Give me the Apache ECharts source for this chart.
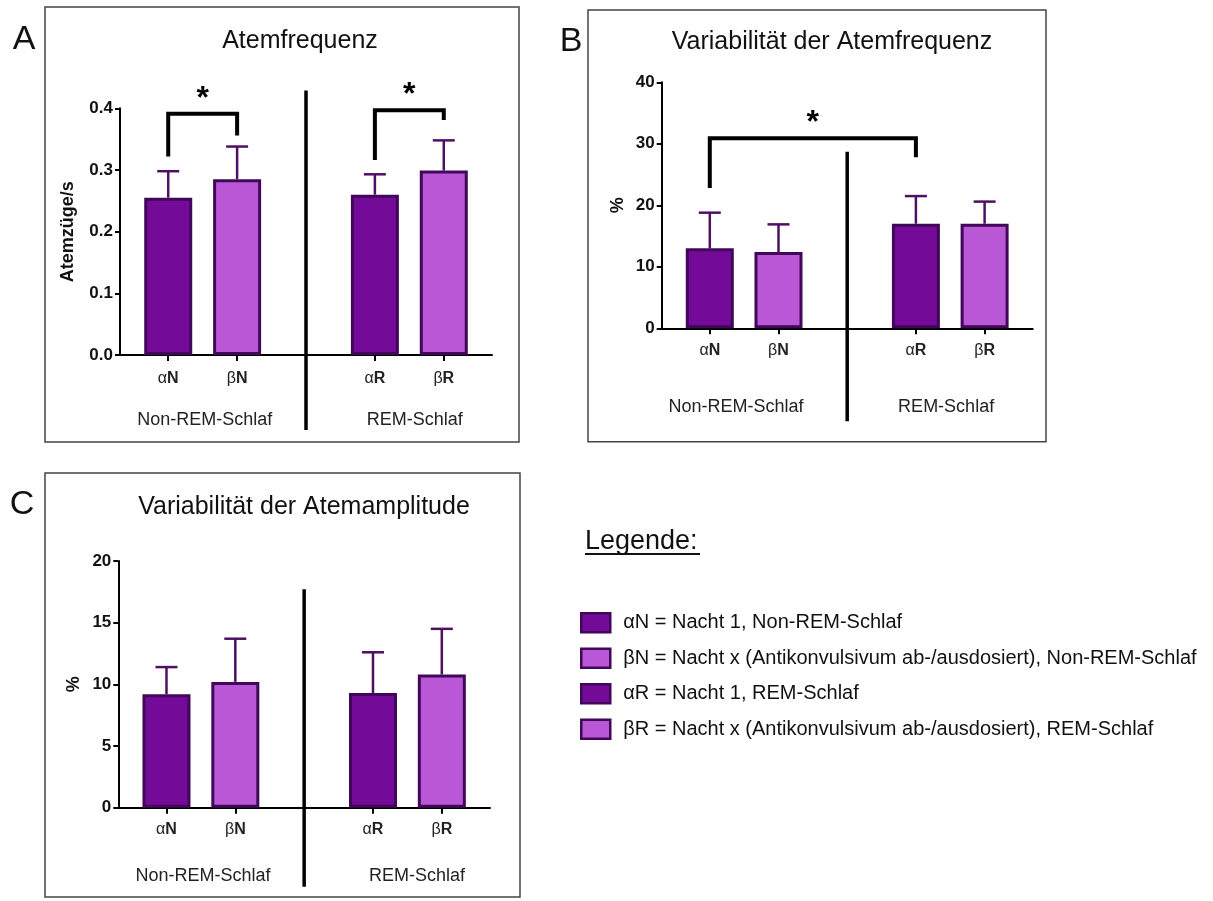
<!DOCTYPE html>
<html>
<head>
<meta charset="utf-8">
<script src="https://cdn.jsdelivr.net/npm/echarts@6/dist/echarts.min.js"></script>
<style>
html,body{margin:0;padding:0;background:#fff;}
#chart{width:1213px;height:901px;}
</style>
</head>
<body>
<div id="chart"></div>
<script>
// ---- data ----
const categories = ['αN', 'βN', 'αR', 'βR'];
const catPos = [0, 1, 3, 4];
const groups = ['Non-REM-Schlaf', 'REM-Schlaf'];
const legendNames = [
  'αN = Nacht 1, Non-REM-Schlaf',
  'βN = Nacht x (Antikonvulsivum ab-/ausdosiert), Non-REM-Schlaf',
  'αR = Nacht 1, REM-Schlaf',
  'βR = Nacht x (Antikonvulsivum ab-/ausdosiert), REM-Schlaf'
];
const freqMean = [0.255, 0.285, 0.260, 0.299];
const freqSD = [0.043, 0.053, 0.033, 0.049];
const freqVarMean = [13.0, 12.4, 17.0, 17.0];
const freqVarSD = [5.8, 4.5, 4.5, 3.6];
const ampVarMean = [9.2, 10.2, 9.3, 10.8];
const ampVarSD = [2.2, 3.5, 3.3, 3.7];
const yTicksA = [0, 0.4, 0.1];
const yTicksB = [0, 40, 10];
const yTicksC = [0, 20, 5];
const titles = ['Atemfrequenz', 'Variabilität der Atemfrequenz', 'Variabilität der Atemamplitude'];
const panelLetters = ['A', 'B', 'C'];
const yNames = ['Atemzüge/s', '%', '%'];
// significance brackets: [fromCat, toCat, leftLegEnd, top, rightLegEnd]
const bracketsA = [[0, 1, 0.322, 0.391, 0.356], [2, 3, 0.316, 0.397, 0.381]];
const bracketsB = [[0, 2, 22.8, 30.9, 27.8]];
const bracketsC = [];

// ---- layout / style ----
const FONT = 'Liberation Sans, Arial, sans-serif';
const fills = ['#740a98', '#b957d6', '#740a98', '#b957d6'];
const border = '#41085a';
const errColor = '#4e1064';
const panels = [
  {mean: freqMean, sd: freqSD, y: yTicksA, br: bracketsA, dec: 1,
   grid: {left: 120, top: 108.3, width: 372, height: 246.7},
   nameGap: 43, catMargin: 16, grpMargin: 56, grpPos: [0.53, 3.58],
   divTop: 0.429, divBottom: 75},
  {mean: freqVarMean, sd: freqVarSD, y: yTicksB, br: bracketsB, dec: 0,
   grid: {left: 661.7, top: 82.3, width: 371, height: 246},
   nameGap: 35, catMargin: 14, grpMargin: 70, grpPos: [0.38, 3.44],
   divTop: 28.7, divBottom: 93},
  {mean: ampVarMean, sd: ampVarSD, y: yTicksC, br: bracketsC, dec: 0,
   grid: {left: 118.3, top: 561, width: 371.7, height: 246.7},
   nameGap: 35, catMargin: 14, grpMargin: 59, grpPos: [0.53, 3.64],
   divTop: 17.7, divBottom: 79}
];
const XMIN = -0.7, XMAX = 4.7;

function findIdx(arr, v) {
  for (let i = 0; i < arr.length; i++) if (Math.abs(arr[i] - v) < 1e-6) return i;
  return -1;
}

const grids = [], xAxes = [], yAxes = [], series = [];
panels.forEach((p, pi) => {
  grids.push(Object.assign({containLabel: false}, p.grid));
  xAxes.push({
    type: 'value', gridIndex: pi, min: XMIN, max: XMAX, position: 'bottom',
    splitLine: {show: false},
    axisLine: {show: true, onZero: false, lineStyle: {color: '#000', width: 2}},
    axisTick: {show: true, customValues: catPos, length: 6, lineStyle: {color: '#000', width: 2}},
    axisLabel: {
      customValues: catPos, margin: p.catMargin,
      formatter: v => { const c = categories[findIdx(catPos, v)] || ''; return '{g|' + c.charAt(0) + '}{b|' + c.slice(1) + '}'; },
      rich: {
        g: {fontFamily: FONT, fontSize: 16, color: '#222'},
        b: {fontFamily: FONT, fontSize: 16, fontWeight: 'bold', color: '#222'}
      }
    }
  });
  xAxes.push({
    type: 'value', gridIndex: pi, min: XMIN, max: XMAX, position: 'bottom',
    splitLine: {show: false}, axisLine: {show: false, onZero: false}, axisTick: {show: false},
    axisLabel: {
      customValues: p.grpPos, margin: p.grpMargin,
      formatter: v => groups[findIdx(p.grpPos, v)] || '',
      fontFamily: FONT, fontSize: 18, color: '#222'
    }
  });
  yAxes.push({
    type: 'value', gridIndex: pi, min: p.y[0], max: p.y[1], interval: p.y[2], position: 'left',
    name: yNames[pi], nameLocation: 'middle', nameGap: p.nameGap,
    nameTextStyle: {fontFamily: FONT, fontSize: 18, fontWeight: 'bold', color: '#111'},
    splitLine: {show: false},
    axisLine: {show: true, onZero: false, lineStyle: {color: '#000', width: 2}},
    axisTick: {show: true, length: 5, lineStyle: {color: '#000', width: 2}},
    axisLabel: {margin: 7, fontFamily: FONT, fontSize: 17, fontWeight: 'bold', color: '#111',
      formatter: v => v.toFixed(p.dec)}
  });
  categories.forEach((c, k) => {
    series.push({
      type: 'bar', name: legendNames[k], xAxisIndex: 2 * pi, yAxisIndex: pi,
      data: [[catPos[k], p.mean[k]]], barWidth: 48, barGap: '-100%',
      itemStyle: {color: fills[k], borderColor: border, borderWidth: 3},
      emphasis: {disabled: true}
    });
  });
  // error bars
  series.push({
    type: 'custom', xAxisIndex: 2 * pi, yAxisIndex: pi, z: 3, silent: true,
    data: catPos.map((x, k) => [x, p.mean[k], p.sd[k]]),
    encode: {x: 0, y: 1},
    renderItem: (params, api) => {
      const x = api.value(0), m = api.value(1), e = api.value(2);
      const a = api.coord([x, m]), b = api.coord([x, m + e]);
      const st = {stroke: errColor, lineWidth: 2.5};
      return {type: 'group', children: [
        {type: 'line', shape: {x1: a[0], y1: a[1], x2: b[0], y2: b[1]}, style: st},
        {type: 'line', shape: {x1: b[0] - 11, y1: b[1], x2: b[0] + 11, y2: b[1]}, style: st}
      ]};
    }
  });
  // divider + brackets + stars
  series.push({
    type: 'custom', xAxisIndex: 2 * pi, yAxisIndex: pi, z: 4, silent: true,
    data: [[2, p.divTop]], encode: {x: 0, y: 1},
    renderItem: (params, api) => {
      const t = api.coord([api.value(0), api.value(1)]);
      const base = api.coord([api.value(0), 0]);
      const children = [{type: 'line', shape: {x1: t[0], y1: t[1], x2: t[0], y2: base[1] + p.divBottom},
        style: {stroke: '#000', lineWidth: 3.5}}];
      p.br.forEach(b => {
        const l0 = api.coord([catPos[b[0]], b[2]]);
        const lt = api.coord([catPos[b[0]], b[3]]);
        const rt = api.coord([catPos[b[1]], b[3]]);
        const r0 = api.coord([catPos[b[1]], b[4]]);
        children.push({type: 'polyline', shape: {points: [l0, lt, rt, r0]},
          style: {stroke: '#000', lineWidth: 4, fill: null, lineJoin: 'miter'}});
        children.push({type: 'text', x: (lt[0] + rt[0]) / 2, y: lt[1] - 31,
          style: {text: '*', fontFamily: FONT, fontSize: 32, fontWeight: 'bold', fill: '#000',
            align: 'center', verticalAlign: 'top'}});
      });
      return {type: 'group', children};
    }
  });
});

const boxes = [[45, 7, 519, 442], [588, 10, 1046, 441.7], [45, 473, 520, 897]];
const titlePos = [[300, 41], [832, 42], [304, 507]];
const letterPos = [[24, 40], [571, 42], [22, 505]];
const graphics = [];
boxes.forEach(b => graphics.push({type: 'rect', shape: {x: b[0], y: b[1], width: b[2] - b[0], height: b[3] - b[1]},
  style: {fill: null, stroke: '#444', lineWidth: 1.5}, silent: true}));
titles.forEach((t, i) => graphics.push({type: 'text', x: titlePos[i][0], y: titlePos[i][1],
  style: {text: t, fontFamily: FONT, fontSize: 25, fill: '#111', align: 'center', verticalAlign: 'middle'}}));
panelLetters.forEach((t, i) => graphics.push({type: 'text', x: letterPos[i][0], y: letterPos[i][1],
  style: {text: t, fontFamily: FONT, fontSize: 34, fill: '#111', align: 'center', verticalAlign: 'middle'}}));
graphics.push({type: 'text', x: 585, y: 542, style: {text: 'Legende:', fontFamily: FONT, fontSize: 27, fill: '#111',
  align: 'left', verticalAlign: 'middle'}});
graphics.push({type: 'rect', shape: {x: 585, y: 553, width: 115, height: 2}, style: {fill: '#111'}});

const option = {
  animation: false,
  backgroundColor: '#fff',
  grid: grids, xAxis: xAxes, yAxis: yAxes, series,
  legend: {
    data: legendNames, orient: 'vertical', left: 580, top: 612, padding: 0,
    itemWidth: 29, itemHeight: 19, itemGap: 14, icon: 'rect',
    itemStyle: {borderColor: border, borderWidth: 2.5},
    textStyle: {fontFamily: FONT, fontSize: 20, color: '#111', lineHeight: 20, padding: [0, 0, 0, 8]}
  },
  graphic: graphics
};
const chart = echarts.init(document.getElementById('chart'), null, {renderer: 'canvas'});
chart.setOption(option);
</script>
</body>
</html>
